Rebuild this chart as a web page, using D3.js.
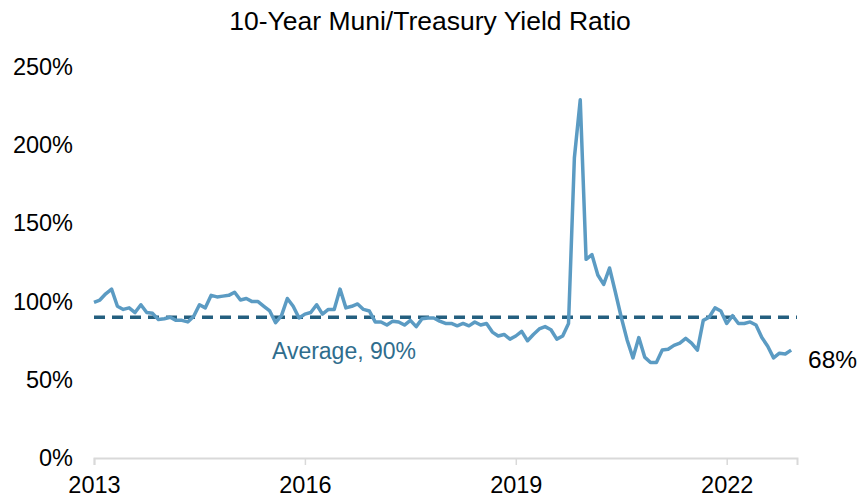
<!DOCTYPE html>
<html>
<head>
<meta charset="utf-8">
<script src="https://cdn.jsdelivr.net/npm/d3@7"></script>
<title>10-Year Muni/Treasury Yield Ratio</title>
<style>
  body { margin: 0; background: #fff; }
  text { font-family: "Liberation Sans", Arial, sans-serif; }
</style>
</head>
<body>
<svg id="chart" width="858" height="498"></svg>
<script>
// monthly muni/treasury ratio, in %, Jan 2013 onwards
var ratio = [
  99.5, 101, 105, 108, 97, 95, 96, 93, 98, 93, 92.5, 88.5,
  89, 90, 88, 88, 87, 90.5, 98, 96, 104, 103, 103.5, 104,
  106, 101, 102, 100, 100, 97, 94, 86.5, 91, 102, 97, 89.5,
  92, 93, 98, 92, 95, 95, 108, 96, 97, 98.5, 95, 94,
  87, 87, 85, 87.5, 87, 85, 88, 84, 89, 89.5, 89.5, 87.5,
  86, 86, 84.5, 86, 84.5, 87, 85, 86, 80.5, 78, 79, 76,
  78, 81, 75, 79, 82.5, 84, 82, 76, 78, 86, 192, 229,
  127, 130, 117, 111, 121.5, 106, 90, 75.5, 64, 77, 64.5, 61,
  61, 69, 69.5, 72, 73.5, 76.5, 73.5, 69, 88, 90, 96, 94,
  86, 91, 86, 86, 87, 85, 77, 71.5, 64, 67, 66.5, 69
];
var average = 90;
var lastLabel = "68%";
var yearTicks = [0, 36, 72, 108];
var yearLabels = ["2013", "2016", "2019", "2022"];
var yTicks = [0, 50, 100, 150, 200, 250];

var svg = d3.select("#chart");

var x = d3.scaleLinear().domain([0, 120]).range([94, 797]);
var y = d3.scaleLinear().domain([0, 250]).range([458, 67]);

svg.append("text")
  .attr("x", 430).attr("y", 30)
  .attr("text-anchor", "middle")
  .style("font-size", "26.5px")
  .text("10-Year Muni/Treasury Yield Ratio");

// x axis
var xAxis = svg.append("g")
  .attr("transform", "translate(0," + y(0) + ")")
  .call(d3.axisBottom(x)
    .tickValues(yearTicks)
    .tickSize(7)
    .tickPadding(11)
    .tickFormat(function(d, i) { return yearLabels[i]; }));
xAxis.select(".domain").attr("stroke", "#d9d9d9").attr("stroke-width", 2);
xAxis.selectAll(".tick line").attr("stroke", "#d9d9d9").attr("stroke-width", 1.5);
xAxis.selectAll(".tick text").style("font-size", "23.5px").attr("fill", "#000")
  .style("font-family", "'Liberation Sans', Arial, sans-serif");

// y axis
var yAxis = svg.append("g")
  .attr("transform", "translate(73,0)")
  .call(d3.axisLeft(y)
    .tickValues(yTicks)
    .tickSize(0)
    .tickPadding(0)
    .tickFormat(function(d) { return d + "%"; }));
yAxis.select(".domain").remove();
yAxis.selectAll(".tick text").style("font-size", "23.5px").attr("fill", "#000")
  .style("font-family", "'Liberation Sans', Arial, sans-serif");

// average line
svg.append("line")
  .attr("x1", x(0)).attr("x2", x(120))
  .attr("y1", y(average)).attr("y2", y(average))
  .attr("stroke", "#245f7f")
  .attr("stroke-width", 3.5)
  .attr("stroke-dasharray", "11,7");

svg.append("text")
  .attr("x", 344).attr("y", 359)
  .attr("text-anchor", "middle")
  .attr("fill", "#2f6d8d")
  .style("font-size", "23px")
  .text("Average, " + average + "%");

var line = d3.line()
  .x(function(d, i) { return x(i); })
  .y(function(d) { return y(d); });

svg.append("path")
  .datum(ratio)
  .attr("d", line)
  .attr("fill", "none")
  .attr("stroke", "#5b9bc3")
  .attr("stroke-width", 3.5)
  .attr("stroke-linejoin", "round");

svg.append("text")
  .attr("x", 808).attr("y", 368)
  .style("font-size", "24.5px")
  .text(lastLabel);
</script>
</body>
</html>
